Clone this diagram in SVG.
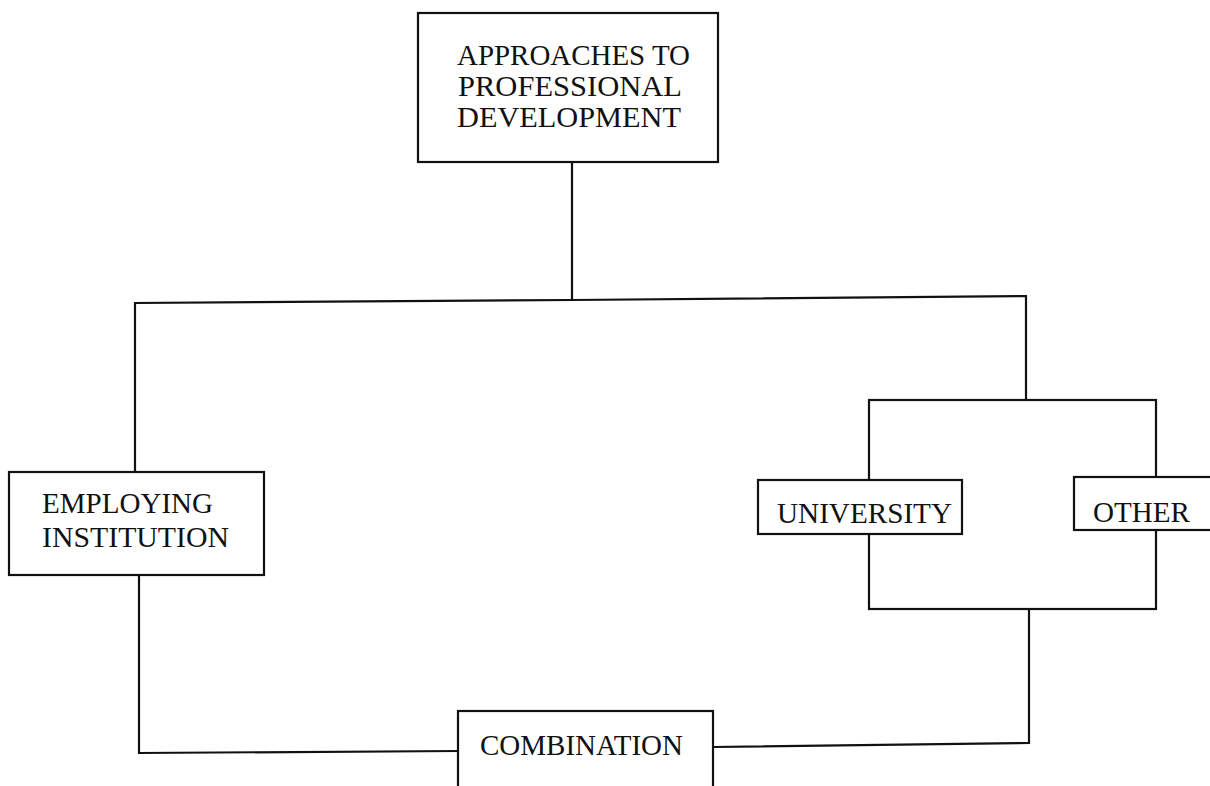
<svg xmlns="http://www.w3.org/2000/svg" width="1210" height="786" viewBox="0 0 1210 786">
<style>
.box{fill:#fff;stroke:#111;stroke-width:2.2}
.ln{fill:none;stroke:#111;stroke-width:2.2}
.t{font-family:"Liberation Serif","Times New Roman",serif;font-size:30px;fill:#111}
</style>
<rect width="1210" height="786" fill="#fff"/>
<g id="connectors">
<line class="ln" x1="572" y1="162" x2="572" y2="300"/>
<polyline class="ln" points="135,472 135,303 572,300 1026,296 1026,400"/>
<rect class="ln" x="869" y="400" width="287" height="209"/>
<polyline class="ln" points="139,575 139,753 458,751"/>
<polyline class="ln" points="713,747 1029,743 1029,609"/>
</g>
<g id="approaches">
<rect class="box" x="418" y="13" width="300" height="149"/>
<text class="t" x="457" y="65" textLength="233" lengthAdjust="spacingAndGlyphs">APPROACHES TO</text>
<text class="t" x="458" y="96" textLength="224" lengthAdjust="spacingAndGlyphs">PROFESSIONAL</text>
<text class="t" x="457" y="127" textLength="224" lengthAdjust="spacingAndGlyphs">DEVELOPMENT</text>
</g>
<g id="employing">
<rect class="box" x="9" y="472" width="255" height="103"/>
<text class="t" x="42" y="513" textLength="171" lengthAdjust="spacingAndGlyphs">EMPLOYING</text>
<text class="t" x="42" y="547" textLength="187" lengthAdjust="spacingAndGlyphs">INSTITUTION</text>
</g>
<g id="university">
<rect class="box" x="758" y="480" width="204" height="54"/>
<text class="t" x="777" y="523" textLength="175" lengthAdjust="spacingAndGlyphs">UNIVERSITY</text>
</g>
<g id="other">
<rect class="box" x="1074" y="477" width="140" height="53"/>
<text class="t" x="1093" y="522" textLength="97" lengthAdjust="spacingAndGlyphs">OTHER</text>
</g>
<g id="combination">
<rect class="box" x="458" y="711" width="255" height="90"/>
<text class="t" x="480" y="755" textLength="203" lengthAdjust="spacingAndGlyphs">COMBINATION</text>
</g>
</svg>
